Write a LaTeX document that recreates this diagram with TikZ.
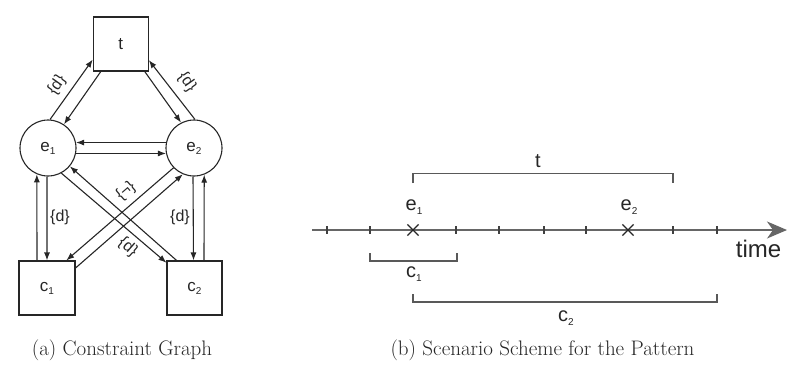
\documentclass[tikz,border=0pt]{standalone}
\usepackage{fontspec}
\setsansfont{Liberation Sans}
\usetikzlibrary{arrows.meta,shapes.misc}
\newcommand\sbs[1]{\raisebox{-0.35ex}{\fontsize{10}{10}\selectfont #1}}
\begin{document}
\begin{tikzpicture}[x=1pt,y=-1pt,
  every node/.style={text=black!85},
  lab/.style={font=\sffamily\fontsize{17}{17}\selectfont},
  box/.style={draw=black!85, line width=1.1pt, inner sep=0pt, minimum width=55pt, minimum height=54pt, lab},
  ev/.style={draw=black!85, line width=1.1pt, circle, inner sep=0pt, minimum size=56pt, lab},
  con/.style={draw=black!85, line width=1.1pt, -{Latex[length=8pt,width=6pt]}},
  rel/.style={font=\sffamily\fontsize{16}{16}\selectfont, inner sep=0pt},
  axis/.style={draw=black!60, line width=1.3pt, -{Stealth[length=20pt,width=17pt,inset=6pt]}},
  tickmark/.style={draw=black!75, line width=1.1pt},
  brk/.style={draw=black!65, line width=1.3pt},
  xmark/.style={cross out, draw=black!85, line width=1.2pt, minimum size=10pt, inner sep=0pt},
  tl/.style={font=\sffamily\fontsize{20}{20}\selectfont, inner sep=0pt},
  captext/.style={font=\rmfamily\fontsize{21}{25}\selectfont, inner sep=0pt}
]
\useasboundingbox (0,0) rectangle (787,365);

% ---- (a) constraint graph ----
\node[box] (t) at (120.8,44) {t};
\node[ev] (e1) at (48,148) {e\sbs{1}};
\node[ev] (e2) at (194,148) {e\sbs{2}};
\node[box, minimum width=56pt] (c1) at (47,288) {c\sbs{1}};
\node[box] (c2) at (194.5,288) {c\sbs{2}};

\draw[con] (e1.86) -- (t.209);
\draw[con] (t.234) -- (e1.56);
\draw[con] (t.311) -- (e2.117);
\draw[con] (e2.88) -- (t.330);
\draw[con] (e2.169) -- (e1.11);
\draw[con] (e1.-11) -- (e2.191);
\draw[con] ([xshift=-10pt]c1.north) -- (e1.247);
\draw[con] (e1.268) -- (c1.north);
\draw[con] (e2.268) -- ([xshift=-1pt]c2.north);
\draw[con] ([xshift=9.5pt]c2.north) -- (e2.291);
\draw[con] (e1.298) -- (c2.138);
\draw[con] (c2.123) -- (e1.320);
\draw[con] (e2.224) -- (c1.55);
\draw[con] (c1.35) -- (e2.247);

\node[rel, rotate=55] (d1) at (57,85) {\{d\}};
\node[rel, rotate=-55] (d2) at (187,82) {\{d\}};
\node[rel] (d3) at (60,217) {\{d\}};
\node[rel] (d4) at (180,217) {\{d\}};
\node[rel, rotate=41] (n1) at (126,191) {\{¬\}};
\node[rel, rotate=-41] (d5) at (128,247) {\{d\}};

% ---- (b) scenario scheme ----
\coordinate (a0) at (312,230);
\coordinate (a1) at (787,230);
\draw[axis] (a0) -- (a1);
\foreach \x in {327,370,456,499,544,586,673,717}
  \draw[tickmark] (\x,226) -- (\x,234);
\node[xmark] (x1) at (413,230) {};
\node[xmark] (x2) at (628,230) {};
\node[tl] (le1) at (414,207) {e\sbs{1}};
\node[tl] (le2) at (629,207) {e\sbs{2}};

\draw[brk] (413,183) -- (413,173.3) -- (673,173.3) -- (673,183);
\node[tl] (lt) at (538,161) {t};
\draw[brk] (370,253) -- (370,261) -- (457,261) -- (457,253);
\node[tl] (lc1) at (414,274) {c\sbs{1}};
\draw[brk] (413,294) -- (413,302) -- (717,302) -- (717,294);
\node[tl] (lc2) at (566,318) {c\sbs{2}};
\node[font=\sffamily\fontsize{24}{24}\selectfont, inner sep=0pt] (time) at (758.5,249) {time};

% ---- captions ----
\node[captext] (capa) at (122,350) {(a) Constraint Graph};
\node[captext] (capb) at (542.5,350) {(b) Scenario Scheme for the Pattern};
\end{tikzpicture}
\end{document}
